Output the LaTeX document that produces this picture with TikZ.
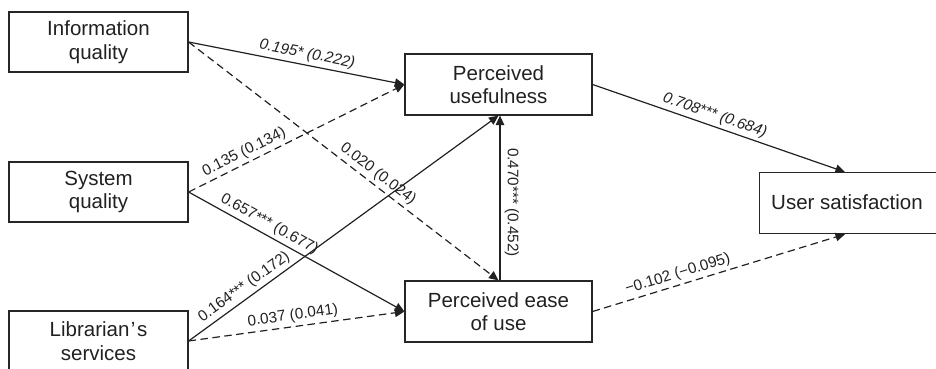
\documentclass[tikz,border=0pt]{standalone}
\usepackage{fontspec}
\setmainfont{Liberation Sans}
\usetikzlibrary{arrows.meta}
\begin{document}
\begin{tikzpicture}[x=1pt,y=-1pt,
  box/.style={draw=black!85, line width=1.2pt, minimum width=179pt, minimum height=60pt,
    align=center, font=\fontsize{20.5}{23.5}\selectfont, text=black!87, inner sep=0pt},
  arr/.style={draw=black!87, line width=1.2pt, -{Triangle[length=9.5pt,width=8.5pt]}},
  dsh/.style={dash pattern=on 7.5pt off 4.5pt},
  lab/.style={font=\fontsize{15.3}{17}\selectfont, text=black!87, inner sep=3pt},
  labit/.style={lab, font=\fontsize{15.3}{17}\selectfont\itshape}]
\useasboundingbox (0,0) rectangle (936,369);
\clip (0,0) rectangle (936,369);
\node[box] (iq) at (98.5,42) {Information\\quality};
\node[box] (sq) at (98.5,192) {System\\quality};
\node[box] (ls) at (98.5,341) {Librarian\kern1.5pt’\kern1.5pt s\\services};
\node[box, minimum width=187pt, minimum height=61pt] (pu) at (498.5,84.5) {Perceived\\usefulness};
\node[box, minimum width=187pt, minimum height=61pt] (peou) at (498.5,311.5) {Perceived ease\\of use};
\node[box, anchor=north west, minimum width=240pt, minimum height=61pt] (us) at (759,172) {};
\node[font=\fontsize{20.5}{23.5}\selectfont, text=black!87, inner sep=0pt, anchor=west] (ustext) at (771,202.5) {User satisfaction};
\coordinate (ustop) at ([xshift=86pt]us.north west);
\coordinate (usbot) at ([xshift=86pt]us.south west);
% arrows
\draw[arr] (iq.east) -- (pu.west) node[labit, pos=0.54, sloped, above] {0.195* (0.222)};
\draw[arr, dsh] (iq.east) -- (peou.north) node[lab, pos=0.59, sloped, above] {0.020 (0.024)};
\draw[arr, dsh] (sq.east) -- (pu.west) node[lab, pos=0.28, sloped, above] {0.135 (0.134)};
\draw[arr] (sq.east) -- (peou.west) node[lab, pos=0.35, sloped, above] {0.657*** (0.677)};
\draw[arr] (ls.east) -- (pu.south) node[lab, pos=0.2, sloped, above] {0.164*** (0.172)};
\draw[arr, dsh] (ls.east) -- (peou.west) node[lab, pos=0.49, sloped, above] {0.037 (0.041)};
\draw[arr] ([xshift=1.5pt]peou.north) -- ([xshift=1.5pt]pu.south)
  node[lab, pos=0.473, rotate=-90, anchor=south, inner sep=4pt] {0.470*** (0.452)};
\draw[arr] (pu.east) -- (ustop) node[labit, pos=0.47, sloped, above] {0.708*** (0.684)};
\draw[arr, dsh] (peou.east) -- (usbot) node[lab, pos=0.35, sloped, above] {−0.102 (−0.095)};
\end{tikzpicture}
\end{document}
